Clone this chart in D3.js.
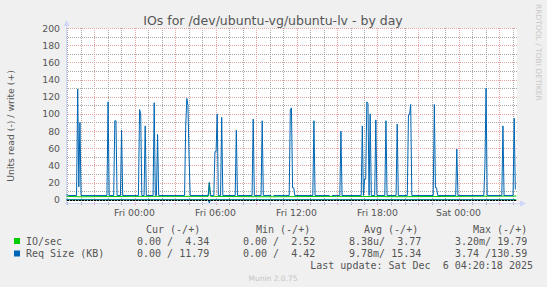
<!DOCTYPE html>
<html>
<head>
<meta charset="utf-8">
<script src="https://cdn.jsdelivr.net/npm/d3@7"></script>
<style>
  body { margin: 0; background: #f0f0f0; }
  svg { display: block; }
</style>
</head>
<body>
<svg id="chart" width="547" height="287"></svg>
<script>
// Req Size (KB), write side: 5-minute samples around each spike, baseline in between
const reqTimes = [
  '04 19:00', '04 19:10', '04 19:45', '04 19:50', '04 19:55', '04 20:00', '04 20:05',
  '04 22:00', '04 22:05', '04 22:10', '04 22:30', '04 22:35', '04 22:40', '04 22:45',
  '04 23:00', '04 23:05', '04 23:10', '05 00:20', '05 00:25', '05 00:30', '05 00:35',
  '05 00:45', '05 00:50', '05 00:55', '05 01:25', '05 01:30', '05 01:35', '05 01:40',
  '05 01:45', '05 01:50', '05 03:45', '05 03:50', '05 03:55', '05 04:00', '05 04:05',
  '05 04:10', '05 05:30', '05 05:35', '05 05:40', '05 05:55', '05 06:00', '05 06:05',
  '05 06:10', '05 06:15', '05 06:25', '05 06:30', '05 06:35', '05 07:30', '05 07:35',
  '05 07:40', '05 08:45', '05 08:50', '05 08:55', '05 09:25', '05 09:30', '05 09:35',
  '05 10:10', '05 10:15', '05 10:20', '05 11:30', '05 11:35', '05 11:40', '05 11:45',
  '05 11:50', '05 11:55', '05 13:15', '05 13:20', '05 13:25', '05 14:30', '05 14:35',
  '05 14:40', '05 15:15', '05 15:20', '05 15:25', '05 16:50', '05 16:55', '05 17:00',
  '05 17:05', '05 17:10', '05 17:15', '05 17:20', '05 17:25', '05 17:30', '05 17:35',
  '05 17:50', '05 17:55', '05 18:00', '05 18:35', '05 18:40', '05 18:45', '05 19:25',
  '05 19:30', '05 19:35', '05 20:15', '05 20:20', '05 20:25', '05 20:30', '05 20:35',
  '05 22:10', '05 22:15', '05 22:20', '05 22:25', '05 22:30', '05 23:50', '05 23:55',
  '06 00:00', '06 01:55', '06 02:00', '06 02:05', '06 02:10', '06 03:15', '06 03:20',
  '06 03:25', '06 04:05', '06 04:10', '06 04:15'
];
const reqWrite = [
  6, 5, 5, 129, 15, 90, 5,
  5, 114, 5, 5, 92, 92, 5,
  5, 81, 5, 5, 105, 100, 5,
  5, 86, 5, 5, 113, 5, 5,
  76, 5, 5, 85, 118, 110, 50,
  5, 5, 20, 5, 5, 56, 56,
  100, 5, 5, 96, 5, 5, 81,
  5, 5, 94, 5, 5, 92, 5,
  5, null, 5, 5, 105, 107, 14,
  14, 5, 5, 92, 5, 5, null,
  5, 5, 80, 5, 5, 86, 5,
  24, 24, 114, 112, 5, 100, 5,
  5, 93, 5, 5, 92, 5, 5,
  88, 5, 5, 99, 99, 111, 5,
  5, 111, 14, 14, 5, 5, 59,
  5, 5, 40, 130, 5, 5, 86,
  5, 5, 95, 12
];
// Req Size (KB), read side (drawn below zero)
const reqReadTimes = ['04 19:00', '05 05:30', '05 05:35', '05 05:40', '06 04:15'];
const reqRead = [0, 0, 3.74, 0, 0];

// IO/sec, write side
const ioTimes = ['04 19:00', '04 20:00', '05 00:00', '05 05:30', '05 05:35', '05 05:40',
  '05 10:00', '05 15:00', '05 20:00', '06 00:00', '06 04:20'];
const ioWrite = [4, 3.5, 4, 4, 19.8, 4, 3.5, 4, 3.6, 4, 4.3];
// IO/sec, read side
const ioReadTimes = ['04 19:00', '06 04:20'];
const ioRead = [0, 0];

const yTicks = [0, 20, 40, 60, 80, 100, 120, 140, 160, 180, 200];

const legendHeads = ['Cur (-/+)', 'Min (-/+)', 'Avg (-/+)', 'Max (-/+)'];
const legendNames = ['IO/sec', 'Req Size (KB)'];
const legendColors = ['#00cc00', '#0066b3'];
const legendValues = [
  ['0.00 /  4.34', '0.00 /  2.52', '8.38u/  3.77', '3.20m/ 19.79'],
  ['0.00 / 11.79', '0.00 /  4.42', '9.78m/ 15.34', '3.74 /130.59']
];

const parseTime = (s) => d3.timeParse('%Y-%m-%d %H:%M')('2025-12-' + s);
const toPoints = (times, vals, sign) =>
  times.map((t, i) => ({ t: parseTime(t), v: vals[i] == null ? null : sign * vals[i] }));

const svg = d3.select('#chart');
const font = 'DejaVu Sans, sans-serif';
const mono = 'DejaVu Sans Mono, monospace';
const textColor = '#555';
const minorColor = '#a8a8a8';
const majorColor = '#eaa4a4';

const plotLeft = 67, plotRight = 517, plotTop = 28, plotBottom = 203;

const x = d3.scaleTime()
  .domain([parseTime('04 19:00'), parseTime('06 04:20')])
  .range([plotLeft, plotRight]);
const y = d3.scaleLinear().domain([-3.74, 200]).range([plotBottom, plotTop]);

// dotted patterns for grid lines (1px on, 1px off)
const defs = svg.append('defs');
[['hMinor', 2, 1, minorColor], ['hMajor', 2, 1, majorColor],
 ['vMinor', 1, 2, minorColor], ['vMajor', 1, 2, majorColor]].forEach(([id, w, h, c]) => {
  defs.append('pattern')
    .attr('id', id).attr('patternUnits', 'userSpaceOnUse')
    .attr('width', w).attr('height', h)
    .append('rect').attr('width', 1).attr('height', 1).attr('fill', c);
});

svg.append('rect').attr('width', 547).attr('height', 287).attr('fill', '#f0f0f0');
svg.append('rect')
  .attr('x', plotLeft).attr('y', plotTop)
  .attr('width', plotRight - plotLeft).attr('height', plotBottom - plotTop)
  .attr('fill', '#ffffff');

// grid: minor every hour and 10 units, major every 3 hours and 20 units
const [t0, t1] = x.domain();
const minorX = d3.timeHour.range(t0, t1).filter((d) => d.getHours() % 3 !== 0);
const majorX = d3.timeHour.range(t0, t1).filter((d) => d.getHours() % 3 === 0);
const minorY = y.ticks(20).filter((d) => d % 20 !== 0);

const grid = svg.append('g').attr('shape-rendering', 'crispEdges');
const hGrid = (data, fill) => grid.append('g').selectAll('rect').data(data).join('rect')
  .attr('x', plotLeft - 2).attr('width', plotRight - plotLeft + 2)
  .attr('y', (d) => Math.round(y(d))).attr('height', 1)
  .attr('fill', fill);
const vGrid = (data, fill, ext) => grid.append('g').selectAll('rect').data(data).join('rect')
  .attr('x', (d) => Math.round(x(d))).attr('width', 1)
  .attr('y', plotTop).attr('height', plotBottom - plotTop + ext)
  .attr('fill', fill);
hGrid(minorY, 'url(#hMinor)');
vGrid(minorX, 'url(#vMinor)', 2);
hGrid(yTicks, 'url(#hMajor)');
vGrid(majorX, 'url(#vMajor)', 3);

// axes with arrows
const axisColor = '#cfd6f8';
svg.append('line')
  .attr('x1', plotLeft - 0.5).attr('x2', plotLeft - 0.5)
  .attr('y1', plotBottom + 2).attr('y2', plotTop - 3)
  .attr('stroke', axisColor);
svg.append('path')
  .attr('d', `M${plotLeft - 3.5},${plotTop - 2} L${plotLeft - 0.5},${plotTop - 8} L${plotLeft + 2.5},${plotTop - 2} Z`)
  .attr('fill', axisColor);
svg.append('line')
  .attr('x1', plotLeft - 2).attr('x2', plotRight + 4)
  .attr('y1', plotBottom + 0.5).attr('y2', plotBottom + 0.5)
  .attr('stroke', axisColor);
svg.append('path')
  .attr('d', `M${plotRight + 3},${plotBottom - 2.5} L${plotRight + 9},${plotBottom + 0.5} L${plotRight + 3},${plotBottom + 3.5} Z`)
  .attr('fill', axisColor);

// series: each 5-minute sample is placed at the middle of its interval
const line = d3.line()
  .defined((d) => d.v != null)
  .x((d) => x(new Date(+d.t - 150000)))
  .y((d) => y(d.v));

const series = [
  { pts: toPoints(ioReadTimes, ioRead, -1), color: '#00cc00' },
  { pts: toPoints(ioTimes, ioWrite, 1), color: '#00cc00' },
  { pts: toPoints(reqReadTimes, reqRead, -1), color: '#0066b3' },
  { pts: toPoints(reqTimes, reqWrite, 1), color: '#0066b3' }
];
svg.append('g').selectAll('path').data(series).join('path')
  .attr('d', (d) => line(d.pts))
  .attr('fill', 'none')
  .attr('stroke', (d) => d.color)
  .attr('stroke-width', 1);

// zero rule
svg.append('line')
  .attr('x1', plotLeft).attr('x2', plotRight)
  .attr('y1', Math.round(y(0)) + 0.5).attr('y2', Math.round(y(0)) + 0.5)
  .attr('stroke', '#000').attr('stroke-dasharray', '2,1')
  .attr('shape-rendering', 'crispEdges');

// tick labels
svg.append('g').selectAll('text').data(yTicks).join('text')
  .attr('x', 60).attr('y', (d) => y(d))
  .attr('text-anchor', 'end').attr('dominant-baseline', 'central')
  .attr('font-family', font).attr('font-size', '9.3px').attr('fill', textColor)
  .text((d) => d);
svg.append('g').selectAll('text').data(x.ticks(d3.timeHour.every(6))).join('text')
  .attr('x', (d) => x(d)).attr('y', 212)
  .attr('text-anchor', 'middle').attr('dominant-baseline', 'central')
  .attr('font-family', font).attr('font-size', '9.3px').attr('fill', textColor)
  .text(d3.timeFormat('%a %H:%M'));

// title and side texts
svg.append('text')
  .attr('x', 273).attr('y', 20)
  .attr('text-anchor', 'middle').attr('dominant-baseline', 'central')
  .attr('font-family', font).attr('font-size', '12.5px').attr('fill', textColor)
  .text('IOs for /dev/ubuntu-vg/ubuntu-lv - by day');
svg.append('text')
  .attr('transform', 'translate(10,126) rotate(-90)')
  .attr('text-anchor', 'middle').attr('dominant-baseline', 'central')
  .attr('font-family', font).attr('font-size', '9.3px').attr('fill', textColor)
  .text('Units read (-) / write (+)');
svg.append('text')
  .attr('transform', 'translate(538,4) rotate(90)')
  .attr('text-anchor', 'start').attr('dominant-baseline', 'central')
  .attr('font-family', font).attr('font-size', '7.5px').attr('fill', '#c8c8c8')
  .text('RRDTOOL / TOBI OETIKER');

// legend
const headX = [146, 256, 364, 473];
const valX = [137, 243, 349, 455];
svg.append('g').selectAll('text').data(legendHeads).join('text')
  .attr('x', (d, i) => headX[i]).attr('y', 229)
  .attr('dominant-baseline', 'central')
  .attr('font-family', mono).attr('font-size', '10px').attr('fill', textColor)
  .style('white-space', 'pre')
  .text((d) => d);

legendNames.forEach((name, r) => {
  const ry = 241 + r * 12.5;
  svg.append('rect')
    .attr('x', 14).attr('y', ry - 3).attr('width', 6).attr('height', 6)
    .attr('fill', legendColors[r]);
  svg.append('text')
    .attr('x', 26).attr('y', ry)
    .attr('dominant-baseline', 'central')
    .attr('font-family', mono).attr('font-size', '10px').attr('fill', textColor)
    .text(name);
  svg.append('g').selectAll('text').data(legendValues[r]).join('text')
    .attr('x', (d, i) => valX[i]).attr('y', ry)
    .attr('dominant-baseline', 'central')
    .attr('font-family', mono).attr('font-size', '10px').attr('fill', textColor)
    .style('white-space', 'pre')
    .text((d) => d);
});

svg.append('text')
  .attr('x', 533).attr('y', 265.5)
  .attr('text-anchor', 'end').attr('dominant-baseline', 'central')
  .attr('font-family', mono).attr('font-size', '10px').attr('fill', textColor)
  .style('white-space', 'pre')
  .text('Last update: Sat Dec  6 04:20:18 2025');

svg.append('text')
  .attr('x', 273).attr('y', 278)
  .attr('text-anchor', 'middle').attr('dominant-baseline', 'central')
  .attr('font-family', font).attr('font-size', '7.5px').attr('fill', '#c4c4c4')
  .text('Munin 2.0.75');
</script>
</body>
</html>
